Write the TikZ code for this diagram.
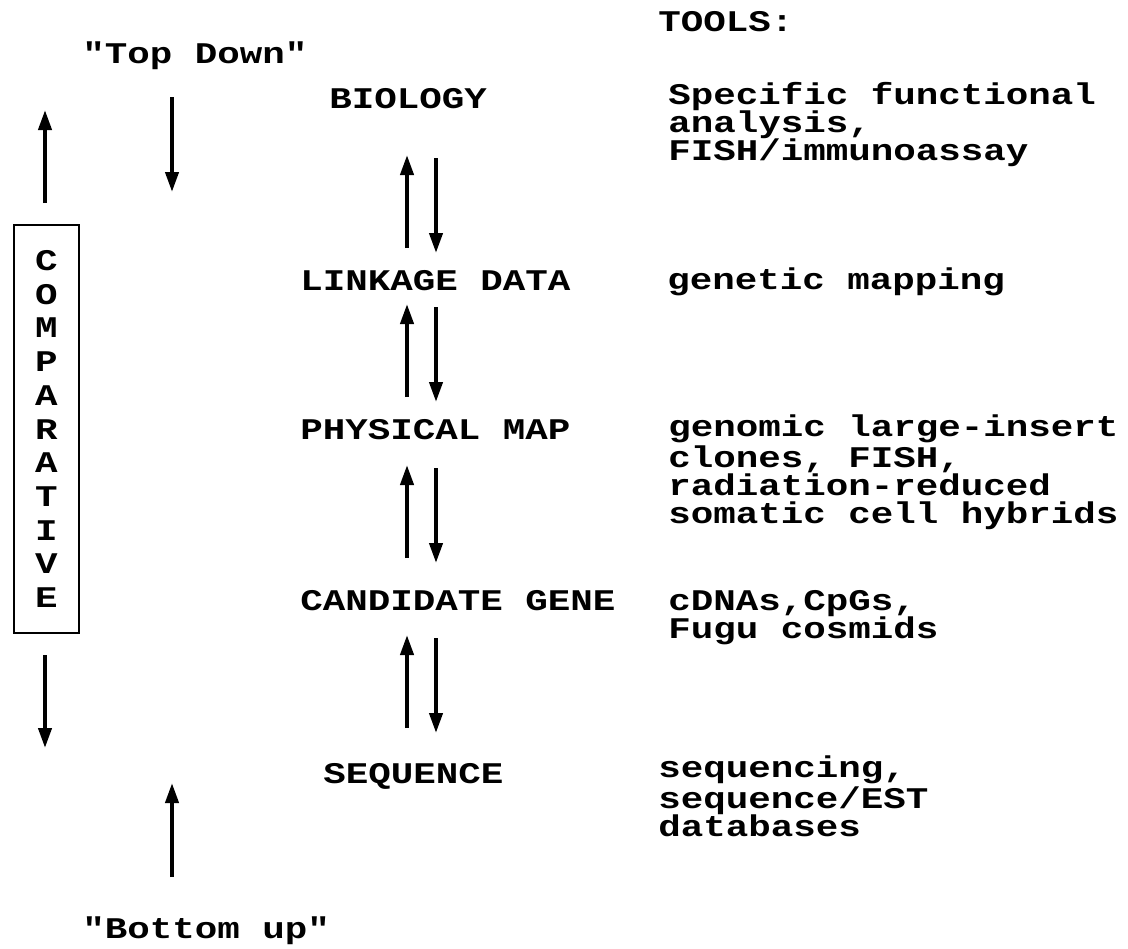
\documentclass[tikz,border=0pt]{standalone}
\usepackage{fontspec}
\newfontfamily\cour[FakeStretch=1.25]{Liberation Mono}
\usetikzlibrary{arrows.meta}

\tikzset{
  lbl/.style={font=\cour\bfseries\fontsize{15}{14}\selectfont, inner sep=0pt, anchor=base west, align=left},
  arr/.style={line width=2pt, -{Triangle[length=10pt,width=6.5pt]}},
}

\begin{document}
\begin{tikzpicture}[x=0.5pt,y=-0.5pt]
    \useasboundingbox (0,0) rectangle (1128,948);
    % headings
    \node[lbl] (tools) at (658,31) {TOOLS:};
    \node[lbl] (topdown) at (82,63) {"Top Down"};
    \node[lbl] (bottomup) at (82,938) {"Bottom up"};
    % levels
    \node[lbl] (bio) at (329,108) {BIOLOGY};
    \node[lbl] (link) at (300,290) {LINKAGE DATA};
    \node[lbl] (phys) at (300,439) {PHYSICAL MAP};
    \node[lbl] (cand) at (300,610) {CANDIDATE GENE};
    \node[lbl] (seq) at (323,783) {SEQUENCE};
    % tools (anchored on the last line)
    \node[lbl] (tbio) at (668,160) {Specific functional\\analysis,\\FISH/immunoassay};
    \node[lbl] (tlink) at (667,289) {genetic mapping};
    \node[lbl] (tphys) at (668,523) {genomic large-insert\\clones, FISH,\\radiation-reduced\\somatic cell hybrids};
    \node[lbl] (tcand) at (668,638) {cDNAs,CpGs,\\Fugu cosmids};
    \node[lbl] (tseq) at (658,836) {sequencing,\\sequence/EST\\databases};
    % comparative box
    \node[draw, line width=0.75pt, minimum width=32.5pt, minimum height=204pt, inner sep=0pt, align=center,
          font=\cour\bfseries\fontsize{15}{16.85}\selectfont] (comp) at (46.5,429)
          {C\\O\\M\\P\\A\\R\\A\\T\\I\\V\\E};
    % side arrows
    \coordinate (cmpup0) at (45,203);  \coordinate (cmpup1) at (45,110);
    \coordinate (cmpdn0) at (45,655);  \coordinate (cmpdn1) at (45,748);
    \coordinate (td0) at (172,97);     \coordinate (td1) at (172,192);
    \coordinate (bu0) at (172,877);    \coordinate (bu1) at (172,783);
    \draw[arr] (cmpup0) -- (cmpup1);
    \draw[arr] (cmpdn0) -- (cmpdn1);
    \draw[arr] (td0) -- (td1);
    \draw[arr] (bu0) -- (bu1);
    % arrows between levels
    \foreach \t/\b [count=\i] in {155/248,304/397,465/558,635/728}{
        \coordinate (up\i) at (407,\t);   \coordinate (upb\i) at (407,\b);
        \coordinate (dn\i) at (436,\t+3); \coordinate (dnb\i) at (436,\b+5);
        \draw[arr] (upb\i) -- (up\i);
        \draw[arr] (dn\i) -- (dnb\i);
    }
\end{tikzpicture}
\end{document}
